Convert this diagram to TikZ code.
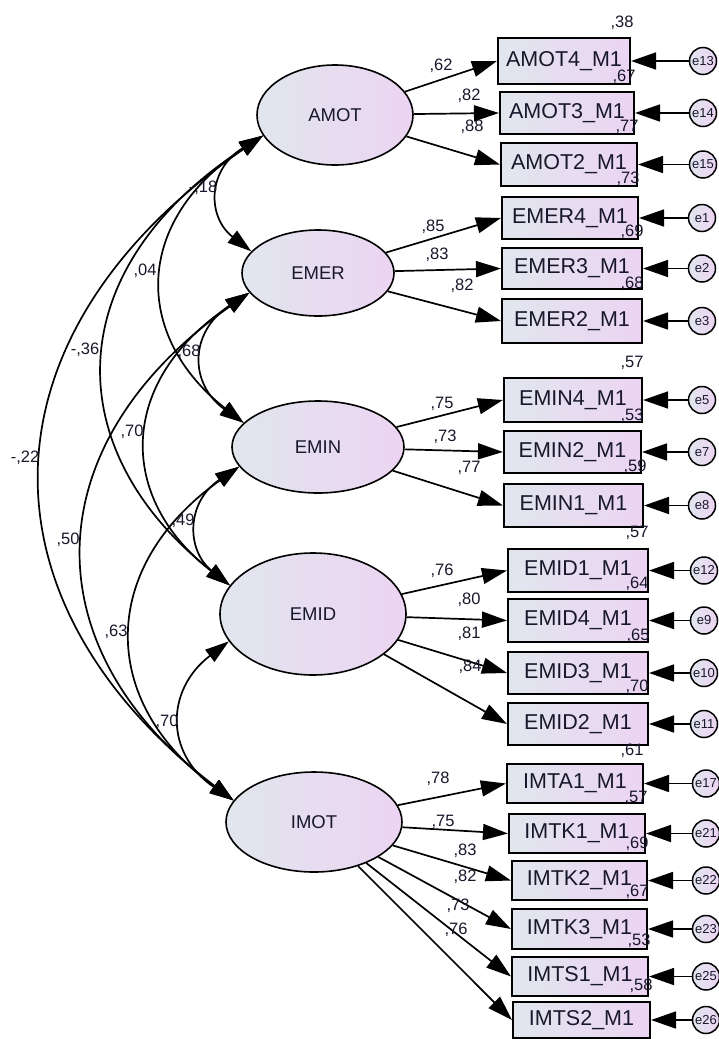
\documentclass[tikz,border=0pt]{standalone}
\usepackage{fontspec}
\setmainfont{Liberation Sans}
\usetikzlibrary{arrows.meta,shapes.geometric}
\definecolor{gL}{RGB}{225,230,238}
\definecolor{gR}{RGB}{236,212,242}
\definecolor{txt}{RGB}{24,24,44}
\tikzset{
 latent/.style={ellipse, draw, line width=1.6pt, left color=gL, right color=gR, inner sep=0pt, font=\fontsize{18.5}{20}\selectfont, text=txt},
 obs/.style={rectangle, draw, line width=2.1pt, left color=gL, right color=gR, inner sep=0pt, font=\fontsize{21.5}{24}\selectfont, text=txt},
 errc/.style={circle, draw, line width=1.5pt, left color=gL, right color=gR, minimum size=27pt, inner sep=0pt, font=\fontsize{13}{13}\selectfont, text=txt},
 load/.style={line width=1.7pt, -{Triangle[length=25pt,width=16pt]}},
 erra/.style={line width=1.7pt, -{Triangle[length=25pt,width=17pt]}},
 cov/.style={line width=1.7pt, {Triangle[length=24pt,width=15pt]}-{Triangle[length=24pt,width=15pt]}},
 num/.style={font=\fontsize{16.5}{18}\selectfont, text=txt, inner sep=0pt},
}
\begin{document}
\begin{tikzpicture}[x=1pt,y=-1pt]
\useasboundingbox (0,0) rectangle (718,1039);
% latent variables
\node[latent, minimum width=156pt, minimum height=100pt] (AMOT) at (335,115) {AMOT};
\node[latent, minimum width=152pt, minimum height=86pt] (EMER) at (318,273) {EMER};
\node[latent, minimum width=172pt, minimum height=92pt] (EMIN) at (318,447) {EMIN};
\node[latent, minimum width=186pt, minimum height=122pt] (EMID) at (313,614) {EMID};
\node[latent, minimum width=176pt, minimum height=100pt] (IMOT) at (314,822) {IMOT};
% observed variables
\node[obs, minimum width=132pt, minimum height=46pt] (AMOT4) at (564,61) {AMOT4\_M1};
\node[obs, minimum width=134pt, minimum height=42pt] (AMOT3) at (567,113) {AMOT3\_M1};
\node[obs, minimum width=136pt, minimum height=43pt] (AMOT2) at (569,164.5) {AMOT2\_M1};
\node[obs, minimum width=136pt, minimum height=42pt] (EMER4) at (570,218) {EMER4\_M1};
\node[obs, minimum width=140pt, minimum height=41pt] (EMER3) at (572,268.5) {EMER3\_M1};
\node[obs, minimum width=140pt, minimum height=44pt] (EMER2) at (572,321) {EMER2\_M1};
\node[obs, minimum width=138pt, minimum height=44pt] (EMIN4) at (573,400) {EMIN4\_M1};
\node[obs, minimum width=137pt, minimum height=42pt] (EMIN2) at (572.5,452) {EMIN2\_M1};
\node[obs, minimum width=139pt, minimum height=43pt] (EMIN1) at (573.5,505.5) {EMIN1\_M1};
\node[obs, minimum width=140pt, minimum height=43pt] (EMID1) at (578,570.5) {EMID1\_M1};
\node[obs, minimum width=140pt, minimum height=43pt] (EMID4) at (578,620.5) {EMID4\_M1};
\node[obs, minimum width=140pt, minimum height=42pt] (EMID3) at (578,673) {EMID3\_M1};
\node[obs, minimum width=140pt, minimum height=42pt] (EMID2) at (578,724) {EMID2\_M1};
\node[obs, minimum width=136pt, minimum height=39pt] (IMTA1) at (575,783.5) {IMTA1\_M1};
\node[obs, minimum width=136pt, minimum height=39pt] (IMTK1) at (577,833.5) {IMTK1\_M1};
\node[obs, minimum width=135pt, minimum height=39pt] (IMTK2) at (579.5,880.5) {IMTK2\_M1};
\node[obs, minimum width=135pt, minimum height=40pt] (IMTK3) at (579.5,929) {IMTK3\_M1};
\node[obs, minimum width=136pt, minimum height=39pt] (IMTS1) at (580,976.5) {IMTS1\_M1};
\node[obs, minimum width=137pt, minimum height=36pt] (IMTS2) at (581.5,1020) {IMTS2\_M1};
% error terms
\node[errc] (e13) at (703,61) {e13};
\node[errc] (e14) at (703,113) {e14};
\node[errc] (e15) at (703,164.5) {e15};
\node[errc] (e1) at (702,218) {e1};
\node[errc] (e2) at (702,268.5) {e2};
\node[errc] (e3) at (702,321) {e3};
\node[errc] (e5) at (702,400) {e5};
\node[errc] (e7) at (702,452) {e7};
\node[errc] (e8) at (702,505.5) {e8};
\node[errc] (e12) at (704,570.5) {e12};
\node[errc] (e9) at (704,620.5) {e9};
\node[errc] (e10) at (704,673) {e10};
\node[errc] (e11) at (704,724) {e11};
\node[errc] (e17) at (706,783.5) {e17};
\node[errc] (e21) at (706,833.5) {e21};
\node[errc] (e22) at (706,880.5) {e22};
\node[errc] (e23) at (706,929) {e23};
\node[errc] (e25) at (706,976.5) {e25};
\node[errc] (e26) at (706,1020) {e26};
% loadings
\foreach \l/\o in {AMOT/AMOT4,AMOT/AMOT3,AMOT/AMOT2,EMER/EMER4,EMER/EMER3,EMER/EMER2,EMIN/EMIN4,EMIN/EMIN2,EMIN/EMIN1,EMID/EMID1,EMID/EMID4,EMID/EMID3,EMID/EMID2,IMOT/IMTA1,IMOT/IMTK1,IMOT/IMTK2,IMOT/IMTK3,IMOT/IMTS1,IMOT/IMTS2}
  \draw[load] (\l) -- (\o.west);
% error arrows
\foreach \e/\o in {e13/AMOT4,e14/AMOT3,e15/AMOT2,e1/EMER4,e2/EMER3,e3/EMER2,e5/EMIN4,e7/EMIN2,e8/EMIN1,e12/EMID1,e9/EMID4,e10/EMID3,e11/EMID2,e17/IMTA1,e21/IMTK1,e22/IMTK2,e23/IMTK3,e25/IMTS1,e26/IMTS2}
  \draw[erra] (\e) -- (\o.east);
% covariances
\draw[cov] (AMOT.196) .. controls (207,170) and (207,217) .. (EMER.162);
\draw[cov] (AMOT.196) .. controls (133,221) and (133,336) .. (EMIN.162);
\draw[cov] (AMOT.196) .. controls (58,270) and (58,450) .. (EMID.161);
\draw[cov] (AMOT.196) .. controls (-26,335) and (-26,602) .. (IMOT.165);
\draw[cov] (EMER.196) .. controls (189,332) and (189,384) .. (EMIN.162);
\draw[cov] (EMER.196) .. controls (117,381) and (117,498) .. (EMID.161);
\draw[cov] (EMER.196) .. controls (32,446) and (32,650) .. (IMOT.165);
\draw[cov] (EMIN.194) .. controls (186,502) and (186,550) .. (EMID.161);
\draw[cov] (EMIN.194) .. controls (98,567) and (98,702) .. (IMOT.165);
\draw[cov] (EMID.198) .. controls (165,690) and (165,754) .. (IMOT.165);
% covariance labels
\node[num] (c1) at (203,188) {-,18};
\node[num] (c2) at (145,271) {,04};
\node[num] (c3) at (85,350) {-,36};
\node[num] (c4) at (25,458) {-,22};
\node[num] (c5) at (189,352) {,68};
\node[num] (c6) at (132,432) {,70};
\node[num] (c7) at (68,540) {,50};
\node[num] (c8) at (183,521) {,49};
\node[num] (c9) at (116,632) {,63};
\node[num] (c10) at (167,722) {,70};
% loading labels
\node[num] (w1) at (441,66) {,62};
\node[num] (w2) at (469,96) {,82};
\node[num] (w3) at (472,127) {,88};
\node[num] (w4) at (433,227) {,85};
\node[num] (w5) at (437,255) {,83};
\node[num] (w6) at (462,286) {,82};
\node[num] (w7) at (442,404) {,75};
\node[num] (w8) at (445,437) {,73};
\node[num] (w9) at (469,468) {,77};
\node[num] (w10) at (442,571) {,76};
\node[num] (w11) at (469,600) {,80};
\node[num] (w12) at (469,634) {,81};
\node[num] (w13) at (470,667) {,84};
\node[num] (w14) at (438,779) {,78};
\node[num] (w15) at (443,822) {,75};
\node[num] (w16) at (465,851) {,83};
\node[num] (w17) at (465,877) {,82};
\node[num] (w18) at (458,906) {,73};
\node[num] (w19) at (456,930) {,76};
% squared multiple correlations
\node[num] (r1) at (622,23) {,38};
\node[num] (r2) at (624,77) {,67};
\node[num] (r3) at (627,127) {,77};
\node[num] (r4) at (628,179) {,73};
\node[num] (r5) at (632,232) {,69};
\node[num] (r6) at (632,284) {,68};
\node[num] (r7) at (632,363) {,57};
\node[num] (r8) at (632,416) {,53};
\node[num] (r9) at (635,467) {,59};
\node[num] (r10) at (637,533) {,57};
\node[num] (r11) at (637,584) {,64};
\node[num] (r12) at (638,636) {,65};
\node[num] (r13) at (637,687) {,70};
\node[num] (r14) at (632,751) {,61};
\node[num] (r15) at (636,798) {,57};
\node[num] (r16) at (637,844) {,69};
\node[num] (r17) at (637,892) {,67};
\node[num] (r18) at (639,941) {,53};
\node[num] (r19) at (641,986) {,58};
\end{tikzpicture}
\end{document}
